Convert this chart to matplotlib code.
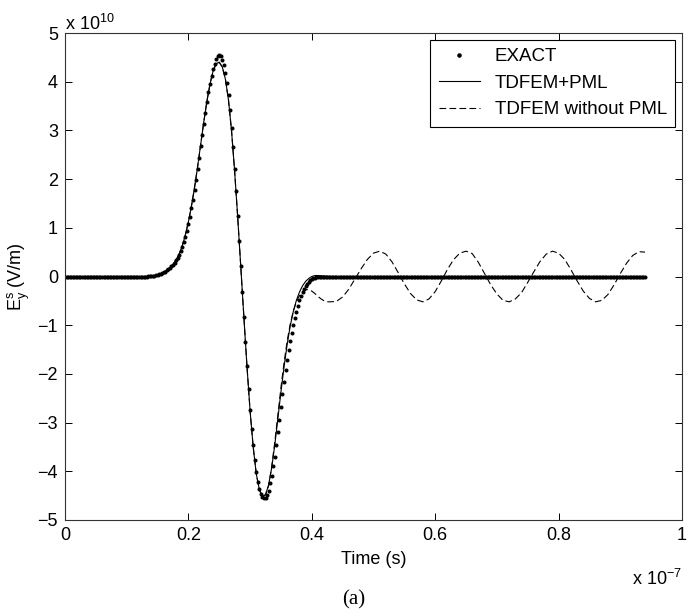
import numpy as np
import matplotlib
matplotlib.use("Agg")
import matplotlib.pyplot as plt

plt.rcParams['font.family'] = ['Liberation Sans', 'DejaVu Sans']
plt.rcParams['mathtext.fontset'] = 'custom'
plt.rcParams['mathtext.rm'] = 'Liberation Sans'
plt.rcParams['mathtext.default'] = 'regular'

# time in ns, field in units of 1e10 V/m
t_end = 94.0

# EXACT: sampled every 0.25 ns, pulse part starts at 13 ns, zero elsewhere
exact_dt = 0.25
exact_start = 13.0
exact_pulse = [
    0.0, 0.0, 0.005, 0.008, 0.01, 0.015, 0.02, 0.027, 0.035, 0.045,
    0.055, 0.07, 0.085, 0.10, 0.125, 0.15, 0.18, 0.21, 0.245, 0.285,
    0.33, 0.38, 0.44, 0.52, 0.60, 0.70, 0.82, 0.94, 1.08, 1.23,
    1.40, 1.58, 1.78, 1.99, 2.21, 2.44, 2.67, 2.90, 3.13, 3.36,
    3.58, 3.78, 3.96, 4.12, 4.26, 4.37, 4.46, 4.52, 4.55, 4.52,
    4.45, 4.34, 4.18, 3.98, 3.72, 3.41, 3.05, 2.65, 2.21, 1.75,
    1.25, 0.73, 0.21, -0.31, -0.83, -1.35, -1.84, -2.31, -2.74, -3.13,
    -3.47, -3.77, -4.02, -4.21, -4.36, -4.46, -4.52, -4.55, -4.54, -4.49,
    -4.40, -4.25, -4.09, -3.90, -3.70, -3.46, -3.20, -2.94, -2.68, -2.42,
    -2.17, -1.93, -1.71, -1.51, -1.33, -1.16, -1.00, -0.86, -0.72, -0.60,
    -0.49, -0.40, -0.32, -0.25, -0.19, -0.15, -0.11, -0.08, -0.06, -0.04,
    -0.03, -0.02, -0.01, -0.005,
]

# TDFEM+PML: every 0.5 ns from 13 to 43 ns, flat zero outside
pml_start = 13.0
pml_dt = 0.5
pml_pulse = [
    0.0, 0.005, 0.01, 0.02, 0.035, 0.055, 0.085, 0.125, 0.18, 0.25,
    0.34, 0.46, 0.63, 0.85, 1.12, 1.45, 1.83, 2.26, 2.72, 3.18,
    3.60, 3.95, 4.22, 4.37, 4.40, 4.30, 4.05, 3.62, 2.98, 2.15,
    1.20, 0.18, -0.85, -1.86, -2.76, -3.50, -4.05, -4.38, -4.52, -4.48,
    -4.28, -3.93, -3.46, -2.92, -2.37, -1.86, -1.40, -1.02, -0.72, -0.49,
    -0.32, -0.19, -0.10, -0.04, 0.0, 0.02, 0.02, 0.015, 0.01, 0.005,
    0.0,
]

# TDFEM without PML: every 0.5 ns from 13 to 43 ns, then every 1 ns to 94 ns
nopml_pulse = [
    0.0, 0.005, 0.01, 0.02, 0.035, 0.055, 0.085, 0.125, 0.18, 0.25,
    0.34, 0.46, 0.63, 0.85, 1.12, 1.45, 1.83, 2.26, 2.72, 3.18,
    3.60, 3.95, 4.22, 4.37, 4.40, 4.30, 4.05, 3.62, 2.98, 2.15,
    1.20, 0.18, -0.85, -1.86, -2.76, -3.50, -4.05, -4.38, -4.52, -4.48,
    -4.30, -3.90, -3.40, -2.84, -2.28, -1.77, -1.33, -0.98, -0.71, -0.52,
    -0.39, -0.31, -0.27, -0.27, -0.30, -0.35, -0.41, -0.46, -0.50, -0.52,
    -0.52,
]
nopml_tail_start = 44.0
nopml_tail = [
    -0.51, -0.42, -0.26, -0.05, 0.16, 0.35, 0.48, 0.52, 0.46, 0.30,
    0.08, -0.15, -0.35, -0.48, -0.52, -0.46, -0.31, -0.09, 0.15, 0.35,
    0.48, 0.52, 0.47, 0.29, 0.06, -0.17, -0.36, -0.49, -0.52, -0.46,
    -0.33, -0.12, 0.10, 0.31, 0.46, 0.52, 0.48, 0.35, 0.14, -0.09,
    -0.30, -0.45, -0.52, -0.49, -0.37, -0.17, 0.06, 0.27, 0.43, 0.51,
    0.50,
]

# build time axes
ex_t = exact_start + exact_dt * np.arange(len(exact_pulse))
ex_lead = np.arange(0, exact_start, exact_dt)
ex_trail = np.arange(ex_t[-1] + exact_dt, t_end + 1e-9, exact_dt)
exact_t = np.concatenate([ex_lead, ex_t, ex_trail])
exact_e = np.concatenate([np.zeros(len(ex_lead)), exact_pulse, np.zeros(len(ex_trail))])

pml_t = np.concatenate([[0.0], pml_start + pml_dt * np.arange(len(pml_pulse)), [t_end]])
pml_e = np.concatenate([[0.0], pml_pulse, [0.0]])

nopml_t = np.concatenate([[0.0], pml_start + pml_dt * np.arange(len(nopml_pulse)),
                          nopml_tail_start + np.arange(len(nopml_tail))])
nopml_e = np.concatenate([[0.0], nopml_pulse, nopml_tail])

fig = plt.figure(figsize=(6.97, 6.16), dpi=100)
ax = fig.add_axes([65 / 697, 1 - 520 / 616, 617 / 697, 487 / 616])

# x in units of 1e-7 s
ax.plot(exact_t / 100, exact_e, linestyle='none', marker='o', ms=1.9,
        color='black', mec='black', label='EXACT')
ax.plot(pml_t / 100, pml_e, color='black', lw=0.8, label='TDFEM+PML')
ax.plot(nopml_t / 100, nopml_e, color='black', lw=0.8, dashes=(6, 3),
        label='TDFEM without PML')

ax.set_xlim(0, 1)
ax.set_ylim(-5, 5)
ax.set_xticks([0, 0.2, 0.4, 0.6, 0.8, 1])
ax.set_xticklabels(['0', '0.2', '0.4', '0.6', '0.8', '1'])
ax.set_yticks(range(-5, 6))
ax.set_yticklabels([str(v).replace('-', '\u2212') for v in range(-5, 6)])
ax.tick_params(direction='in', top=True, right=True, length=5, width=0.7,
               labelsize=13, pad=5)
for s in ax.spines.values():
    s.set_linewidth(0.8)
    s.set_color('#333333')

ax.set_xlabel('Time (s)', fontsize=13, labelpad=5)
ax.set_ylabel(r'$E_y^s$ (V/m)', fontsize=13, labelpad=4)

fig.text(65 / 697, 1 - 30 / 616, r'x 10$^{10}$', fontsize=13, ha='left', va='baseline')
fig.text(682 / 697, 1 - 585 / 616, r'x 10$^{-7}$', fontsize=13, ha='right', va='baseline')
fig.text(354 / 697, 1 - 600 / 616, '(a)', fontsize=15, family='Liberation Serif',
         ha='center', va='center')

leg = ax.legend(loc='upper right', fontsize=13.5, frameon=True, fancybox=False,
                edgecolor='black', framealpha=1, borderaxespad=0.35,
                handlelength=2.2, handletextpad=0.8, borderpad=0.45,
                labelspacing=0.5, markerscale=1.2)
leg.get_frame().set_linewidth(0.8)

fig.savefig('out.png', dpi=100)
